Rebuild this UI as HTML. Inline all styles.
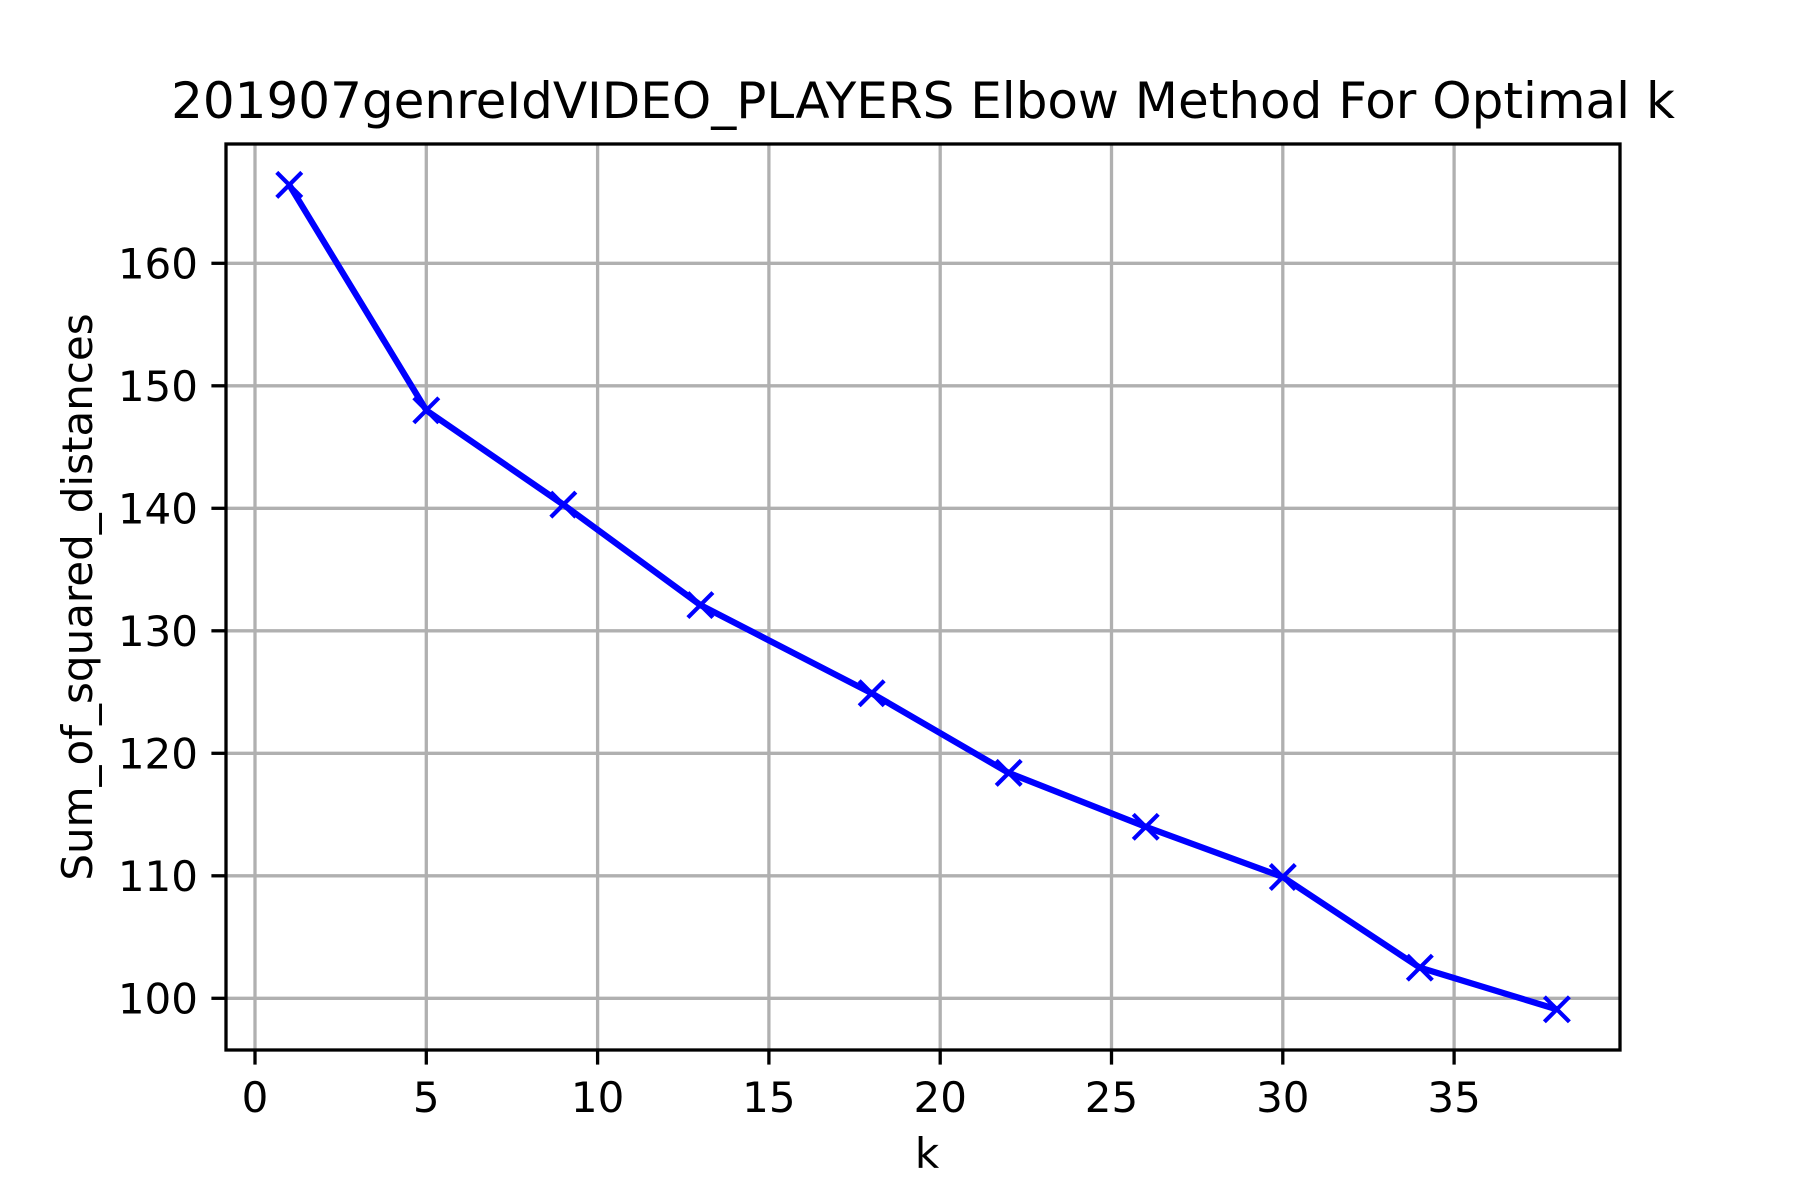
<!DOCTYPE html>
<html><head><meta charset="utf-8"><style>
html,body{margin:0;padding:0;background:#fff;}
svg{display:block;font-family:"DejaVu Sans","Liberation Sans",sans-serif;}
</style></head><body>
<svg id="chart" width="1800" height="1200" viewBox="0 0 1800 1200">
<rect width="1800" height="1200" fill="#fff"/>
<text x="923" y="118" font-size="50" text-anchor="middle">201907genreIdVIDEO_PLAYERS Elbow Method For Optimal k</text>
<g id="grid"></g>
<g id="ticks"></g>
<g id="series"></g>
<rect x="226" y="144" width="1394" height="906" fill="none" stroke="#000" stroke-width="3.3"/>
<text x="927" y="1168" font-size="42" text-anchor="middle">k</text>
<text transform="translate(92,597) rotate(-90)" font-size="42" text-anchor="middle">Sum_of_squared_distances</text>
</svg>
<script>
const kValues = [1,5,9,13,18,22,26,30,34,38];
const sseValues = [166.4,148.0,140.3,132.1,124.9,118.4,114.0,109.9,102.5,99.1];
const xTicks = [0,5,10,15,20,25,30,35];
const yTicks = [100,110,120,130,140,150,160];
const NS='http://www.w3.org/2000/svg';
const L=226,R=1620,T=144,B=1050;
function xs(v){return 255+v*34.26;}
function ys(v){return 263.3+(160-v)*12.25;}
function mk(tag,attrs,parent){const e=document.createElementNS(NS,tag);for(const k in attrs)e.setAttribute(k,attrs[k]);document.getElementById(parent).appendChild(e);return e;}
xTicks.forEach(t=>{
  const x=xs(t);
  const g=mk('line',{x1:x,x2:x,y1:T,y2:B,stroke:'#b0b0b0','stroke-width':3.3},'grid');
  
  
  const tk=mk('line',{x1:x,x2:x,y1:B,y2:B+14.6,stroke:'#000','stroke-width':3.3},'ticks');
  
  
  const tx=mk('text',{x:x,y:B+62,'font-size':42,'text-anchor':'middle'},'ticks');
  tx.textContent=t;
  
  
});
yTicks.forEach(t=>{
  const y=ys(t);
  const g=mk('line',{x1:L,x2:R,y1:y,y2:y,stroke:'#b0b0b0','stroke-width':3.3},'grid');
  
  
  const tk=mk('line',{x1:L-14.6,x2:L,y1:y,y2:y,stroke:'#000','stroke-width':3.3},'ticks');
  
  
  const tx=mk('text',{x:L-28,y:y+15,'font-size':42,'text-anchor':'end'},'ticks');
  tx.textContent=t;
  
  
});
const pts=kValues.map((k,i)=>xs(k)+','+ys(sseValues[i])).join(' ');
const line=mk('polyline',{points:pts,fill:'none',stroke:'#0000ff','stroke-width':6.25,'stroke-linejoin':'round'},'series');


kValues.forEach((k,i)=>{
  const x=xs(k),y=ys(sseValues[i]),s=12.5;
  const p=mk('path',{d:`M${x-s},${y-s}L${x+s},${y+s}M${x-s},${y+s}L${x+s},${y-s}`,stroke:'#0000ff','stroke-width':4.2,fill:'none'},'series');
  
  
});
</script>
</body></html>
